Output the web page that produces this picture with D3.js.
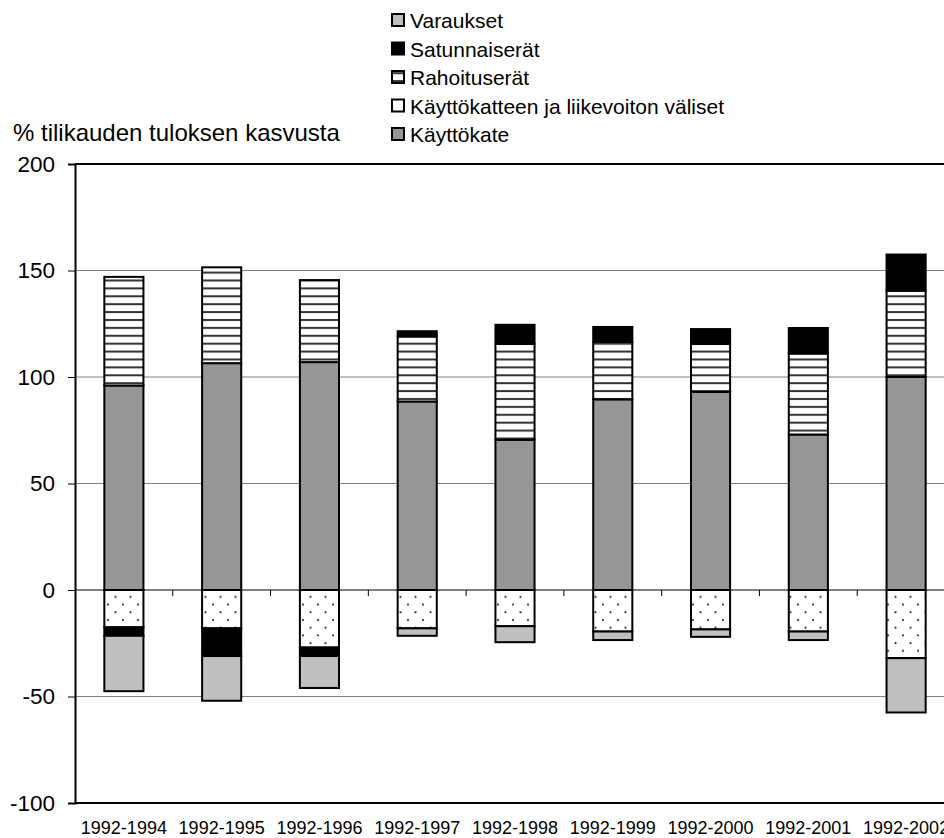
<!DOCTYPE html>
<html>
<head>
<meta charset="utf-8">
<script src="https://cdn.jsdelivr.net/npm/d3@7"></script>
<style>
  html, body { margin: 0; padding: 0; background: #fff; overflow: hidden; }
  svg { display: block; font-family: "Liberation Sans", Arial, sans-serif; }
</style>
</head>
<body>
<svg id="chart" width="944" height="838"></svg>
<script>
const categories = ["1992-1994","1992-1995","1992-1996","1992-1997","1992-1998","1992-1999","1992-2000","1992-2001","1992-2002"];
const kayttokate = [96, 106.5, 107, 88.5, 70.5, 89.5, 93, 73, 100];
const valiset = [-17.5, -18, -27, -18, -17, -19.5, -18.5, -19.5, -32];
const rahoitus = [51, 45, 38.5, 30.5, 45, 27, 22.5, 38, 40.5];
const satunnais = [-4, -13, -4, 2.5, 9, 7, 7, 12, 17];
const varaukset = [-26, -21, -15, -3.5, -7.5, -4, -3.5, -4, -25.5];
const yTicks = [-100, -50, 0, 50, 100, 150, 200];
const seriesNames = ["Käyttökate", "Käyttökatteen ja liikevoiton väliset", "Rahoituserät", "Satunnaiserät", "Varaukset"];
const legendOrder = ["Varaukset", "Satunnaiserät", "Rahoituserät", "Käyttökatteen ja liikevoiton väliset", "Käyttökate"];
const yTitle = "% tilikauden tuloksen kasvusta";

const seriesValues = [kayttokate, valiset, rahoitus, satunnais, varaukset];
const rows = categories.map((c, i) => {
  const r = { cat: c };
  seriesNames.forEach((s, j) => r[s] = seriesValues[j][i]);
  return r;
});

const svg = d3.select("#chart");
const defs = svg.append("defs");
const stripe = defs.append("pattern").attr("id", "stripe").attr("patternUnits", "userSpaceOnUse")
  .attr("width", 8).attr("height", 7.9);
stripe.append("rect").attr("width", 8).attr("height", 7.9).attr("fill", "#fff");
stripe.append("rect").attr("y", 3).attr("width", 8).attr("height", 2).attr("fill", "#333");
const dots = defs.append("pattern").attr("id", "dots").attr("patternUnits", "userSpaceOnUse")
  .attr("width", 15).attr("height", 15.4);
dots.append("rect").attr("width", 15).attr("height", 15.4).attr("fill", "#fff");
dots.append("circle").attr("cx", 3).attr("cy", 4).attr("r", 1.1).attr("fill", "#333");
dots.append("circle").attr("cx", 10.5).attr("cy", 11.7).attr("r", 1.1).attr("fill", "#333");

const fills = {
  "Käyttökate": "#969696",
  "Käyttökatteen ja liikevoiton väliset": "url(#dots)",
  "Rahoituserät": "url(#stripe)",
  "Satunnaiserät": "#000",
  "Varaukset": "#c0c0c0"
};
const legendFills = Object.assign({}, fills, {"Käyttökatteen ja liikevoiton väliset": "#fff"});

const pLeft = 75, pRight = 955, pTop = 164, pBottom = 803;
const x = d3.scaleBand().domain(categories).range([pLeft, pRight]).paddingInner(0.6).paddingOuter(0.3);
const y = d3.scaleLinear().domain([-100, 200]).range([pBottom, pTop]);

// gridlines
svg.append("g").selectAll("line").data(yTicks.filter(t => t !== 0 && t !== 200 && t !== -100)).join("line")
  .attr("x1", pLeft).attr("x2", pRight).attr("y1", d => y(d)).attr("y2", d => y(d))
  .attr("stroke", "#808080").attr("stroke-width", 1);

// bars
const stack = d3.stack().keys(seriesNames).offset(d3.stackOffsetDiverging);
const stacked = stack(rows);
svg.append("g").selectAll("g").data(stacked).join("g")
  .attr("fill", d => fills[d.key])
  .selectAll("rect").data(d => d.filter(p => p[0] !== p[1])).join("rect")
  .attr("x", d => x(d.data.cat))
  .attr("width", x.bandwidth())
  .attr("y", d => y(Math.max(d[0], d[1])))
  .attr("height", d => Math.abs(y(d[0]) - y(d[1])))
  .attr("stroke", "#000").attr("stroke-width", 2);

// zero line with category ticks
svg.append("line").attr("x1", pLeft).attr("x2", pRight).attr("y1", y(0)).attr("y2", y(0))
  .attr("stroke", "#000").attr("stroke-width", 1);
const boundaries = categories.slice(1).map(c => x(c) - x.step() * x.paddingInner() / 2);
svg.append("g").selectAll("line").data(boundaries).join("line")
  .attr("x1", d => d).attr("x2", d => d).attr("y1", y(0)).attr("y2", y(0) + 6)
  .attr("stroke", "#000").attr("stroke-width", 1);

// frame
svg.append("line").attr("x1", pLeft).attr("x2", pRight).attr("y1", pTop).attr("y2", pTop).attr("stroke", "#000").attr("stroke-width", 2);
svg.append("line").attr("x1", pLeft).attr("x2", pRight).attr("y1", pBottom).attr("y2", pBottom).attr("stroke", "#000").attr("stroke-width", 2);

// y axis
const yAxis = d3.axisLeft(y).tickValues(yTicks).tickSize(7).tickPadding(13).tickFormat(d => String(d));
const yg = svg.append("g").attr("transform", `translate(${pLeft},0)`).call(yAxis);
yg.select(".domain").attr("stroke", "#000").attr("stroke-width", 2);
yg.selectAll(".tick line").attr("stroke", "#000").attr("stroke-width", 1);
yg.selectAll(".tick text").attr("font-size", 22.5).attr("fill", "#000").attr("font-family", "Liberation Sans, Arial, sans-serif");

// x labels
svg.append("g").selectAll("text").data(categories).join("text")
  .attr("x", d => x(d) + x.bandwidth() / 2).attr("y", 834)
  .attr("text-anchor", "middle").attr("font-size", 18).attr("fill", "#000")
  .text(d => d);

// y title
svg.append("text").attr("x", 13).attr("y", 141).attr("font-size", 24).attr("fill", "#000").text(yTitle);

// legend
const lg = svg.append("g").selectAll("g").data(legendOrder).join("g")
  .attr("transform", (d, i) => `translate(392, ${28 + i * 28.5})`);
lg.append("rect").attr("x", 0).attr("y", -14).attr("width", 12).attr("height", 12)
  .attr("fill", d => legendFills[d]).attr("stroke", "#000").attr("stroke-width", 2);
lg.append("text").attr("x", 18).attr("y", 0).attr("font-size", 21).attr("fill", "#000").text(d => d);
</script>
</body>
</html>
